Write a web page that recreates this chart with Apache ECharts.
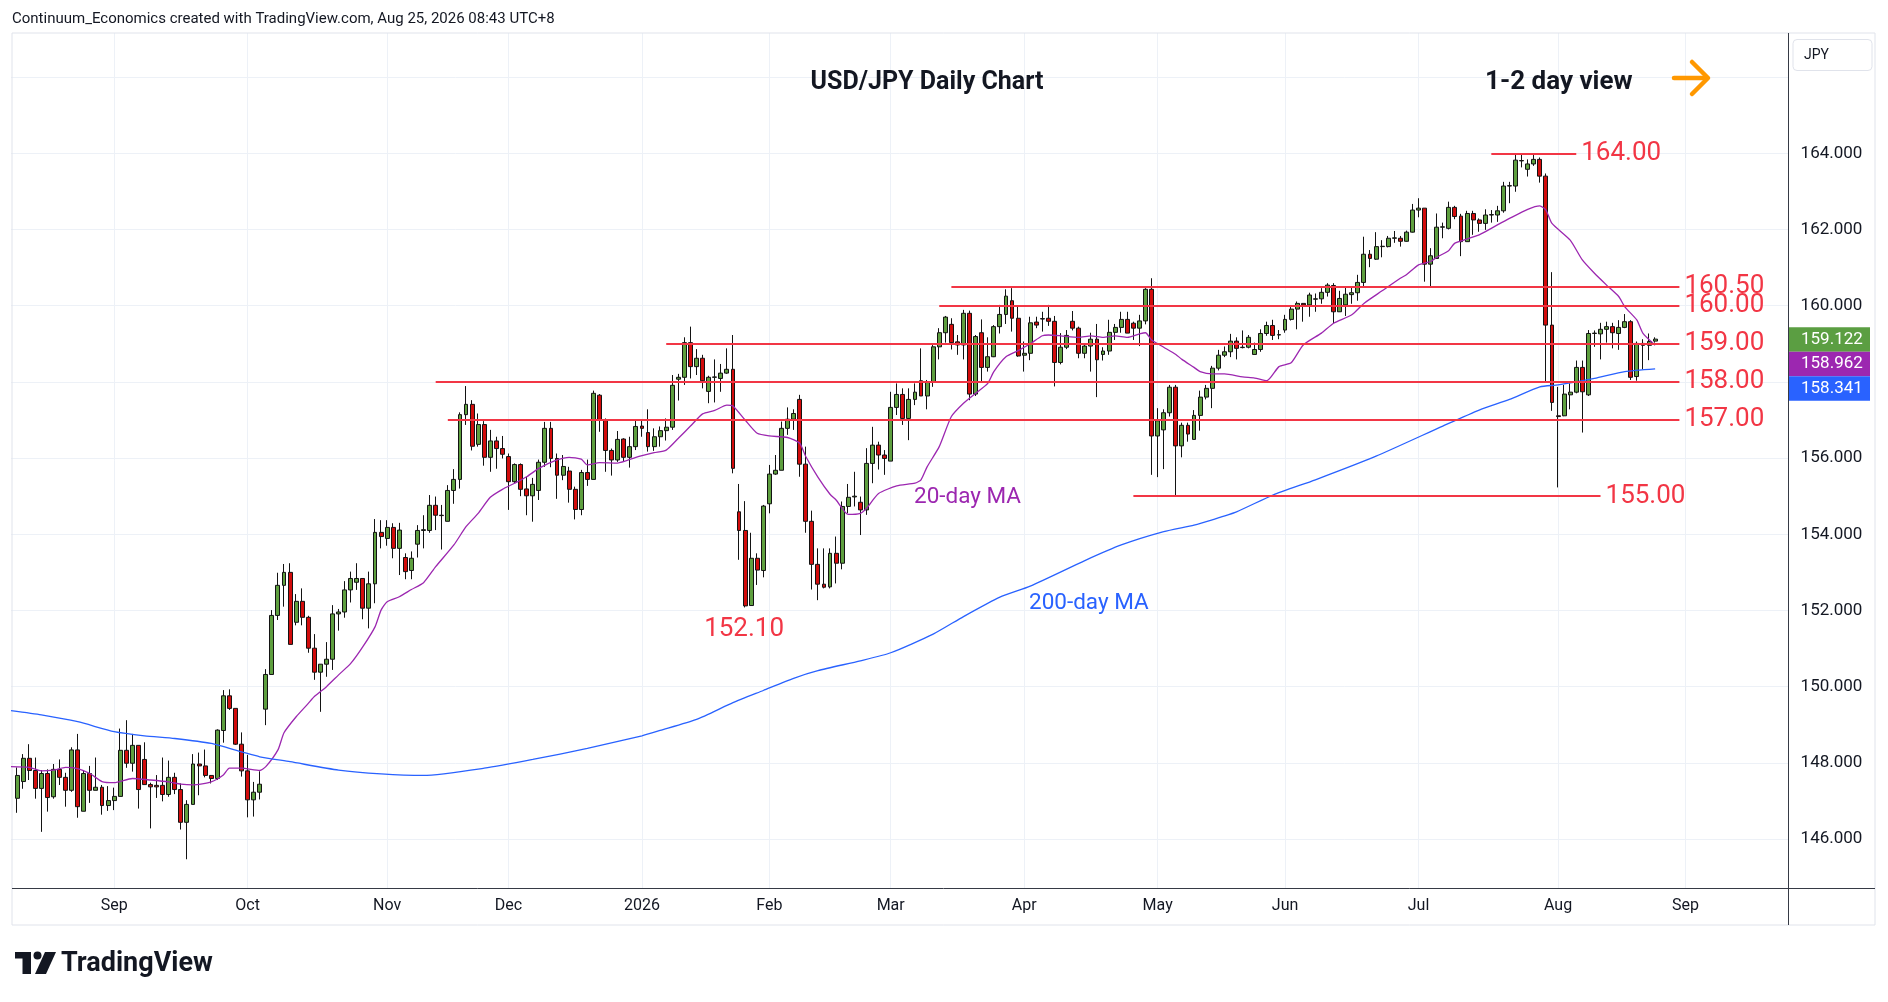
<!DOCTYPE html>
<html>
<head>
<meta charset="utf-8">
<title>USD/JPY Daily Chart</title>
<script src="https://cdn.jsdelivr.net/npm/echarts@6.0.0/dist/echarts.min.js"></script>
<style>
  html, body { margin: 0; padding: 0; background: #ffffff; }
  #main { width: 1888px; height: 1002px; }
</style>
</head>
<body>
<div id="main"></div>
<script>
// daily bars from Aug 8 2025 to Aug 25 2026 (slot 0 = Aug 7 is left empty)
var opens = [
  147.07,147.51,148.12,147.80,147.33,147.72,147.11,147.83,147.62,147.28,
  148.34,146.73,147.72,147.28,147.36,146.88,147.01,147.12,148.33,147.99,
  148.46,148.09,147.43,147.41,147.41,147.17,147.62,147.30,146.44,146.91,
  147.97,147.92,147.67,147.59,148.85,149.76,149.43,148.49,147.79,147.03,
  147.23,149.41,150.32,151.87,152.66,153.00,151.69,152.24,151.82,151.01,
  150.38,150.59,150.72,151.91,151.96,152.54,152.74,152.84,152.06,152.70,
  154.05,153.89,154.18,153.63,153.39,153.05,153.74,154.10,154.10,154.76,
  154.50,154.34,155.15,155.44,157.14,157.41,156.36,156.88,156.02,156.45,
  156.25,156.04,155.38,155.83,155.19,155.01,155.15,155.89,156.78,155.99,
  155.55,155.66,155.18,154.65,155.62,155.44,157.65,157.00,156.20,155.95,
  156.50,156.02,156.30,156.84,156.67,156.30,156.56,156.72,156.81,158.07,
  158.12,159.03,158.40,158.62,157.75,158.12,158.09,158.23,158.33,154.59,
  154.10,152.13,153.37,153.05,154.80,155.58,155.68,156.78,157.02,157.54,
  155.84,154.34,153.21,152.69,152.62,153.50,153.24,154.73,154.98,154.84,
  154.64,155.86,156.34,156.08,155.92,157.33,157.67,157.04,157.54,158.03,
  157.63,158.01,158.92,159.29,159.51,159.05,158.97,159.80,157.68,159.29,
  158.38,158.66,159.45,159.77,160.13,159.67,158.70,158.75,159.57,159.66,
  159.67,159.59,158.51,158.91,159.59,159.41,158.75,158.94,159.12,158.72,
  158.81,159.30,159.43,159.64,159.54,159.41,159.60,160.43,156.58,156.74,
  157.19,157.86,156.32,156.86,156.49,157.12,157.60,157.83,158.36,158.70,
  158.79,159.07,158.90,158.91,158.72,158.85,159.27,159.48,159.23,159.36,
  159.64,159.91,160.06,160.02,160.17,160.18,160.35,160.53,159.84,160.02,
  160.29,160.34,160.61,161.35,161.22,161.55,161.55,161.77,161.77,161.69,
  161.93,162.51,162.56,161.09,161.24,162.06,162.03,162.58,162.35,161.68,
  162.42,162.25,162.16,162.38,162.38,162.49,163.14,163.14,163.81,163.58,
  163.72,163.84,163.40,159.49,157.11,157.11,157.66,157.73,158.38,157.66,
  159.27,159.26,159.38,159.45,159.27,159.43,159.58,158.14,159.01,158.96,159.07
];
var closes = [
  147.67,148.12,147.80,147.33,147.72,147.09,147.83,147.62,147.28,148.34,
  146.85,147.72,147.28,147.36,146.88,147.01,147.12,148.33,147.99,148.46,
  147.30,147.43,147.37,147.37,147.17,147.62,147.30,146.44,146.91,147.97,
  147.92,147.67,147.59,148.86,149.76,149.43,148.49,147.79,147.03,147.23,
  147.44,150.32,151.87,152.66,153.00,151.11,152.24,151.82,151.01,150.38,
  150.59,150.72,151.91,151.96,152.54,152.84,152.84,152.06,152.70,154.05,
  153.94,154.18,153.63,154.11,153.02,153.37,154.10,154.12,154.76,154.50,
  154.49,155.15,155.44,157.14,157.41,156.31,156.88,156.02,156.45,156.25,
  156.10,155.38,155.83,155.18,155.01,155.31,155.89,156.78,155.99,155.55,
  155.78,155.18,154.65,155.62,155.44,157.70,157.00,156.20,155.95,156.49,
  156.02,156.30,156.83,156.78,156.30,156.56,156.72,156.81,157.91,158.12,
  159.03,158.40,158.62,158.03,158.12,158.13,158.23,158.33,155.73,154.10,
  152.12,153.37,153.06,154.74,155.58,155.68,156.78,157.02,157.17,155.84,
  154.34,153.21,152.69,152.61,153.50,153.24,154.73,154.97,155.00,154.64,
  155.86,156.34,156.08,155.99,157.33,157.67,157.04,157.54,157.73,157.63,
  158.01,158.92,159.29,159.70,159.03,158.97,159.80,157.68,159.19,158.38,
  158.66,159.45,159.77,160.25,159.67,158.68,158.75,159.55,159.49,159.65,
  159.59,158.51,158.91,159.22,159.41,158.75,158.94,159.12,158.58,158.81,
  159.30,159.43,159.64,159.28,159.41,159.60,160.43,156.58,156.98,157.19,
  157.86,156.32,156.86,156.63,157.12,157.60,157.83,158.36,158.70,158.79,
  159.07,158.88,158.91,159.17,158.85,159.27,159.48,159.22,159.24,159.64,
  159.91,160.06,160.02,160.28,160.18,160.35,160.54,159.84,160.19,160.30,
  160.34,160.61,161.35,161.24,161.55,161.56,161.77,161.78,161.69,161.93,
  162.51,162.56,161.09,161.31,162.06,162.07,162.58,162.34,161.68,162.42,
  162.25,162.16,162.38,162.39,162.49,163.14,163.15,163.82,163.80,163.72,
  163.84,163.40,159.49,157.46,157.09,157.68,157.73,158.38,157.74,159.27,
  159.28,159.38,159.45,159.29,159.43,159.58,158.12,159.01,158.96,159.06,159.122
];
var lows = [
  146.69,147.32,147.55,147.06,146.19,146.72,147.06,147.42,146.85,147.24,
  146.56,146.73,146.95,147.28,146.64,146.74,146.76,147.12,147.87,147.77,
  146.80,147.43,146.28,147.08,146.99,147.11,147.18,146.25,145.47,146.91,
  147.15,147.62,147.46,147.55,148.53,149.39,148.47,147.64,146.57,146.59,
  147.04,148.99,150.32,151.75,152.10,151.11,151.61,151.61,150.89,150.18,
  149.34,150.26,150.44,151.47,151.81,152.21,152.54,151.77,151.53,152.19,
  153.63,153.70,153.37,152.93,152.82,152.82,153.39,153.63,154.04,154.11,
  153.60,154.34,154.80,155.20,156.87,156.20,156.30,155.80,155.64,155.72,
  155.99,154.64,155.34,155.00,154.50,154.33,154.90,155.77,155.76,154.93,
  155.42,154.83,154.39,154.50,155.27,155.44,156.69,155.64,155.54,155.90,
  155.91,155.75,156.21,156.56,156.17,156.19,156.30,156.46,156.74,157.51,
  157.92,158.09,158.18,157.83,157.44,157.46,157.74,158.21,155.60,153.33,
  152.08,152.13,152.67,152.87,154.55,155.56,155.68,156.61,156.74,155.51,
  154.04,152.55,152.27,152.58,152.58,152.71,153.08,154.55,154.73,153.98,
  154.51,155.34,155.70,155.56,155.92,157.13,156.87,156.47,157.39,157.63,
  157.28,157.87,158.59,159.03,158.85,158.71,158.59,157.52,157.63,158.01,
  158.27,158.65,159.27,159.52,159.32,158.66,158.27,158.57,159.41,159.32,
  159.47,157.88,158.46,158.86,159.35,158.62,158.62,158.27,157.60,158.56,
  158.71,159.10,159.29,159.28,159.10,158.94,159.51,155.56,155.50,155.71,
  157.09,155.01,156.02,156.43,156.49,156.72,157.54,157.31,158.30,158.65,
  158.65,158.59,158.88,158.88,158.72,158.79,159.21,159.10,159.12,159.29,
  159.61,159.38,159.58,159.71,159.84,160.05,160.24,159.54,159.84,159.73,
  160.05,160.13,160.48,161.01,161.20,161.27,161.53,161.65,161.55,161.68,
  161.92,162.32,160.63,160.48,161.24,161.77,162.00,162.27,161.30,161.68,
  161.86,161.94,161.99,162.18,162.20,162.44,162.69,162.99,163.63,163.39,
  163.67,163.23,157.98,157.24,155.23,157.10,157.28,157.70,156.67,157.63,
  158.92,158.59,159.03,158.88,158.84,159.41,158.05,158.03,158.33,158.57,159.03
];
var highs = [
  147.88,148.23,148.49,148.14,147.81,147.83,147.97,148.09,147.74,148.41,
  148.76,147.81,147.92,148.14,147.42,147.39,147.35,148.90,149.12,148.76,
  148.46,148.54,147.48,147.68,148.14,148.06,147.74,147.46,147.02,148.23,
  148.27,148.35,147.68,148.88,149.91,149.93,149.43,148.80,148.21,147.50,
  147.78,150.46,152.01,152.99,153.22,153.24,152.43,152.58,151.86,151.38,
  150.59,151.17,152.14,152.04,152.77,153.02,153.24,152.84,153.02,154.40,
  154.37,154.37,154.29,154.30,153.50,153.55,154.24,154.50,155.03,154.99,
  154.77,155.29,155.71,157.20,157.89,157.52,157.17,156.97,156.74,156.56,
  156.58,156.12,155.86,155.86,155.51,155.48,155.96,156.95,156.95,156.12,
  156.08,155.77,155.25,155.69,155.96,157.77,157.68,157.04,156.25,156.71,
  156.52,156.56,157.00,157.00,157.28,156.78,156.83,157.04,158.18,158.21,
  159.17,159.45,158.86,158.71,158.16,158.59,158.47,158.88,159.23,155.32,
  154.87,154.04,153.50,154.77,155.82,156.08,156.96,157.33,157.28,157.66,
  156.30,154.62,153.63,153.63,153.63,153.94,154.86,155.32,155.64,154.99,
  156.26,156.82,156.43,156.21,157.74,157.96,157.83,157.83,157.96,158.88,
  158.05,158.97,159.41,159.73,159.67,159.23,159.89,159.87,159.23,159.64,
  159.17,159.49,160.02,160.43,160.46,159.97,159.06,159.71,159.71,159.84,
  160.02,159.73,159.28,159.36,159.86,159.45,159.01,159.29,159.52,158.91,
  159.63,159.52,159.84,159.84,159.58,159.76,160.46,160.72,157.31,157.28,
  157.92,157.92,156.93,156.93,157.26,157.77,157.92,158.42,158.84,158.93,
  159.26,159.17,159.35,159.23,159.03,159.38,159.58,159.63,159.36,159.76,
  159.97,160.11,160.07,160.34,160.32,160.46,160.59,160.59,160.39,160.48,
  160.48,160.81,161.81,161.46,161.93,161.72,161.83,161.96,161.83,161.97,
  162.67,162.82,162.56,161.51,162.42,162.18,162.73,162.62,162.41,162.49,
  162.49,162.29,162.53,162.51,162.62,163.25,163.25,163.98,163.96,163.84,
  163.96,163.89,163.47,160.88,157.87,157.92,157.96,158.56,158.56,159.36,
  159.35,159.55,159.58,159.55,159.62,159.78,159.62,159.06,159.12,159.27,159.17
];

// moving averages: [bar slot, value]
var ma20Points = [
  [0,147.90],[3,147.88],[5,147.79],[7,147.81],[9,147.88],[11,147.85],[13,147.72],[15,147.51],
  [17,147.48],[20,147.59],[23,147.55],[26,147.50],[28,147.44],[30,147.42],[33,147.50],[35,147.68],
  [36,147.86],[38,147.86],[41,147.80],[42,147.90],[44,148.34],[45,148.79],[47,149.21],[49,149.56],
  [50,149.74],[52,150.00],[54,150.31],[56,150.61],[58,151.05],[60,151.57],[61,152.01],[62,152.23],
  [64,152.36],[66,152.55],[68,152.73],[70,153.15],[73,153.72],[75,154.20],[77,154.55],[79,154.97],
  [81,155.18],[83,155.34],[85,155.51],[87,155.73],[90,155.95],[92,156.02],[94,155.97],[95,155.82],
  [97,155.88],[100,155.87],[103,156.02],[106,156.14],[108,156.21],[110,156.52],[112,156.84],[114,157.16],
  [116,157.25],[118,157.39],[119,157.37],[121,157.00],[123,156.65],[125,156.58],[128,156.54],[130,156.39],
  [131,156.04],[133,155.50],[135,155.05],[136,154.90],[138,154.52],[140,154.55],[141,154.68],[143,155.07],
  [146,155.27],[149,155.34],[150,155.43],[151,155.77],[153,156.30],[155,157.09],[157,157.44],[159,157.70],
  [161,157.96],[162,158.27],[164,158.66],[166,158.82],[168,159.00],[170,159.21],[171,159.23],[173,159.21],
  [176,159.17],[178,159.21],[180,159.17],[182,159.21],[184,159.17],[186,159.26],[187,159.29],[188,159.10],
  [190,158.91],[192,158.72],[193,158.59],[195,158.38],[196,158.27],[198,158.21],[200,158.21],[203,158.13],
  [205,158.10],[207,158.03],[209,158.40],[211,158.50],[213,158.97],[216,159.28],[218,159.54],[221,159.76],
  [223,160.06],[226,160.39],[229,160.72],[230,160.81],[232,161.07],[234,161.16],[235,161.27],[237,161.45],
  [238,161.64],[242,161.86],[245,162.12],[247,162.29],[250,162.53],[252,162.62],[253,162.51],[254,162.16],
  [257,161.72],[259,161.20],[261,160.85],[263,160.54],[265,160.24],[266,159.97],[268,159.62],[269,159.27],
  [271,158.962]
];
var ma200Points = [
  [0,149.37],[5,149.26],[11,149.08],[17,148.82],[22,148.71],[27,148.64],[33,148.51],[38,148.29],
  [41,148.16],[46,148.03],[54,147.81],[61,147.71],[68,147.67],[78,147.86],[86,148.09],[95,148.38],
  [104,148.71],[107,148.85],[113,149.14],[119,149.58],[124,149.90],[129,150.22],[133,150.42],[140,150.68],
  [145,150.89],[152,151.38],[157,151.84],[163,152.35],[168,152.64],[177,153.31],[183,153.72],[190,154.07],
  [195,154.24],[198,154.38],[202,154.59],[208,155.03],[215,155.43],[225,156.05],[236,156.84],[242,157.26],
  [247,157.54],[252,157.87],[255,157.92],[261,158.09],[266,158.27],[271,158.341]
];

var gridTicks = [146, 148, 150, 152, 154, 156, 158, 160, 162, 164, 166];
var tickLabels = [146, 148, 150, 152, 154, 156, 160, 162, 164];   // 158 sits under the price tags, 166 is not labelled
var levels = [164.00, 160.50, 160.00, 159.00, 158.00, 157.00, 155.00];
var lowLabel = 152.10;

// trading days (FX feed without Dec 25 / Jan 1)
var holidays = ['2025-12-25', '2026-01-01'];
var slotCount = 294;
var dates = [];
(function () {
    var d = new Date(Date.UTC(2025, 7, 7));
    while (dates.length < slotCount) {
        var wd = d.getUTCDay();
        var s = d.toISOString().slice(0, 10);
        if (wd !== 0 && wd !== 6 && holidays.indexOf(s) < 0) dates.push(s);
        d.setUTCDate(d.getUTCDate() + 1);
    }
})();
var monthNames = ['2026', 'Feb', 'Mar', 'Apr', 'May', 'Jun', 'Jul', 'Aug', 'Sep', 'Oct', 'Nov', 'Dec'];
function isMonthStart(i) {
    return i > 0 && dates[i].slice(5, 7) !== dates[i - 1].slice(5, 7);
}

var FONT = 'Roboto, "Liberation Sans", sans-serif';
var RED = '#f23645';
var GREEN = '#5e9f3f';
var PURPLE = '#9c27b0';
var BLUE = '#2962ff';
var GRIDC = '#edf1f7';

var candleData = ['-'];
for (var i = 0; i < opens.length; i++) {
    candleData.push([opens[i], closes[i], lows[i], highs[i]]);
}

// where each level line runs (bar slots)
var levelSpan = { '164': [244, 258], '160.5': [155, 275], '160': [153, 275], '159': [108, 275],
                  '158': [70, 275], '157': [72, 275], '155': [185, 262] };
var levelLines = levels.map(function (v) {
    var span = levelSpan[String(v)];
    var lab = { formatter: v.toFixed(2) };
    if (v === 160.5) lab.padding = [0, 0, 10, 0];   // nudged up, clear of 160.00
    return [
        { coord: [span[0], v], label: lab },
        { coord: [span[1], v] }
    ];
});

var chart = echarts.init(document.getElementById('main'));

var option = {
    animation: false,
    backgroundColor: '#ffffff',
    grid: { left: 11, right: 99.4, top: 33, bottom: 113.4 },
    xAxis: {
        type: 'category',
        data: dates,
        boundaryGap: false,
        axisLine: { show: false },
        axisTick: { show: false },
        axisLabel: {
            interval: function (idx) { return isMonthStart(idx); },
            formatter: function (val) { return monthNames[parseInt(val.slice(5, 7), 10) - 1]; },
            color: '#131722', fontSize: 16, fontFamily: FONT, margin: 9
        },
        splitLine: {
            show: true,
            interval: function (idx) { return isMonthStart(idx); },
            lineStyle: { color: GRIDC, width: 1 }
        }
    },
    yAxis: {
        type: 'value',
        position: 'right',
        min: 144.70,
        max: 167.157,
        splitNumber: 11,
        axisLine: { show: false },
        axisTick: { show: false, customValues: gridTicks },
        axisLabel: {
            customValues: tickLabels,
            formatter: function (v) { return v.toFixed(3); },
            color: '#131722', fontSize: 17, fontFamily: FONT, margin: 12
        },
        splitLine: { show: true, lineStyle: { color: GRIDC, width: 1 } }
    },
    series: [
        {
            type: 'candlestick',
            data: candleData,
            barWidth: 4.4,
            itemStyle: {
                color: GREEN, color0: '#d20c0c',
                borderColor: '#131313', borderColor0: '#131313', borderWidth: 1
            },
            markLine: {
                silent: true,
                symbol: ['none', 'none'],
                lineStyle: { color: RED, width: 2, type: 'solid' },
                label: {
                    position: 'end', distance: 5, color: RED,
                    fontSize: 26, fontFamily: FONT
                },
                data: levelLines
            },
            z: 3
        },
        {
            type: 'line', data: ma20Points, showSymbol: false, smooth: 0.2,
            lineStyle: { color: PURPLE, width: 1.3 }, z: 4
        },
        {
            type: 'line', data: ma200Points, showSymbol: false, smooth: 0.2,
            lineStyle: { color: BLUE, width: 1.3 }, z: 4
        }
    ]
};
chart.setOption(option);

// header, notes, frame and price tags
var lastClose = closes[closes.length - 1];
var lastMa20 = ma20Points[ma20Points.length - 1][1];
var lastMa200 = ma200Points[ma200Points.length - 1][1];
var tagY = chart.convertToPixel({ yAxisIndex: 0 }, lastClose) - 12;
var lowPos = chart.convertToPixel({ xAxisIndex: 0, yAxisIndex: 0 }, [121, lowLabel]);

function tag(y, color, value) {
    return {
        type: 'group', z: 20,
        children: [
            { type: 'rect', shape: { x: 1788, y: y, width: 82, height: 24.5 }, style: { fill: color } },
            { type: 'text', style: { x: 1801, y: y + 12.5, text: value.toFixed(3), fill: '#ffffff',
                fontSize: 17, fontFamily: FONT, verticalAlign: 'middle' } }
        ]
    };
}

chart.setOption({
    graphic: [
        { type: 'text', z: 10, style: { x: 12, y: 19.5, text: 'Continuum_Economics created with TradingView.com, Aug 25, 2026 08:43 UTC+8',
            fill: '#131722', fontSize: 15, fontFamily: FONT, verticalAlign: 'middle' } },
        { type: 'rect', z: 1, shape: { x: 12, y: 33, width: 1863, height: 892 },
            style: { fill: 'none', stroke: '#e0e3eb', lineWidth: 1 } },
        { type: 'line', z: 10, shape: { x1: 1788.5, y1: 33, x2: 1788.5, y2: 925 },
            style: { stroke: '#363a45', lineWidth: 1 } },
        { type: 'line', z: 10, shape: { x1: 12, y1: 888.5, x2: 1875, y2: 888.5 },
            style: { stroke: '#363a45', lineWidth: 1 } },
        { type: 'rect', z: 10, shape: { x: 1793, y: 39.5, width: 79, height: 31, r: 4 },
            style: { fill: '#ffffff', stroke: '#e0e3eb', lineWidth: 1 } },
        { type: 'text', z: 11, style: { x: 1804, y: 55, text: 'JPY', fill: '#131722', fontSize: 14,
            fontFamily: FONT, verticalAlign: 'middle' } },
        { type: 'text', z: 10, style: { x: 927, y: 83, text: 'USD/JPY Daily Chart', fill: '#131722',
            fontSize: 25, fontWeight: 'bold', fontFamily: FONT, align: 'center', verticalAlign: 'middle' } },
        { type: 'text', z: 10, style: { x: 1485, y: 82, text: '1-2 day view', fill: '#131722',
            fontSize: 26, fontWeight: 'bold', fontFamily: FONT, verticalAlign: 'middle' } },
        { type: 'polyline', z: 10, shape: { points: [[1674, 78], [1707, 78]] },
            style: { stroke: '#ff9800', lineWidth: 4.5, lineCap: 'round', fill: 'none' } },
        { type: 'polyline', z: 10, shape: { points: [[1692, 62], [1708, 78], [1692, 94]] },
            style: { stroke: '#ff9800', lineWidth: 4.5, lineCap: 'round', lineJoin: 'round', fill: 'none' } },
        { type: 'text', z: 10, style: { x: lowPos[0] - 1, y: lowPos[1] + 23, text: lowLabel.toFixed(2), fill: RED,
            fontSize: 26, fontFamily: FONT, align: 'center', verticalAlign: 'middle' } },
        { type: 'text', z: 10, style: { x: 914, y: 497, text: '20-day MA', fill: PURPLE,
            fontSize: 22.5, fontFamily: FONT, verticalAlign: 'middle' } },
        { type: 'text', z: 10, style: { x: 1029, y: 603, text: '200-day MA', fill: BLUE,
            fontSize: 22.5, fontFamily: FONT, verticalAlign: 'middle' } },
        tag(tagY, '#5b9e42', lastClose),
        tag(tagY + 24.5, PURPLE, lastMa20),
        tag(tagY + 49, BLUE, lastMa200),
        // TradingView mark
        { type: 'rect', z: 10, shape: { x: 15, y: 952, width: 16, height: 6.5 }, style: { fill: '#131722' } },
        { type: 'rect', z: 10, shape: { x: 22.5, y: 952, width: 8.5, height: 22 }, style: { fill: '#131722' } },
        { type: 'circle', z: 10, shape: { cx: 37.5, cy: 955.5, r: 4 }, style: { fill: '#131722' } },
        { type: 'polygon', z: 10, shape: { points: [[45, 952], [56, 952], [46, 974], [35, 974]] }, style: { fill: '#131722' } },
        { type: 'text', z: 10, style: { x: 61, y: 964, text: 'TradingView', fill: '#131722',
            fontSize: 27, fontWeight: 'bold', fontFamily: FONT, verticalAlign: 'middle' } }
    ]
});
</script>
</body>
</html>
